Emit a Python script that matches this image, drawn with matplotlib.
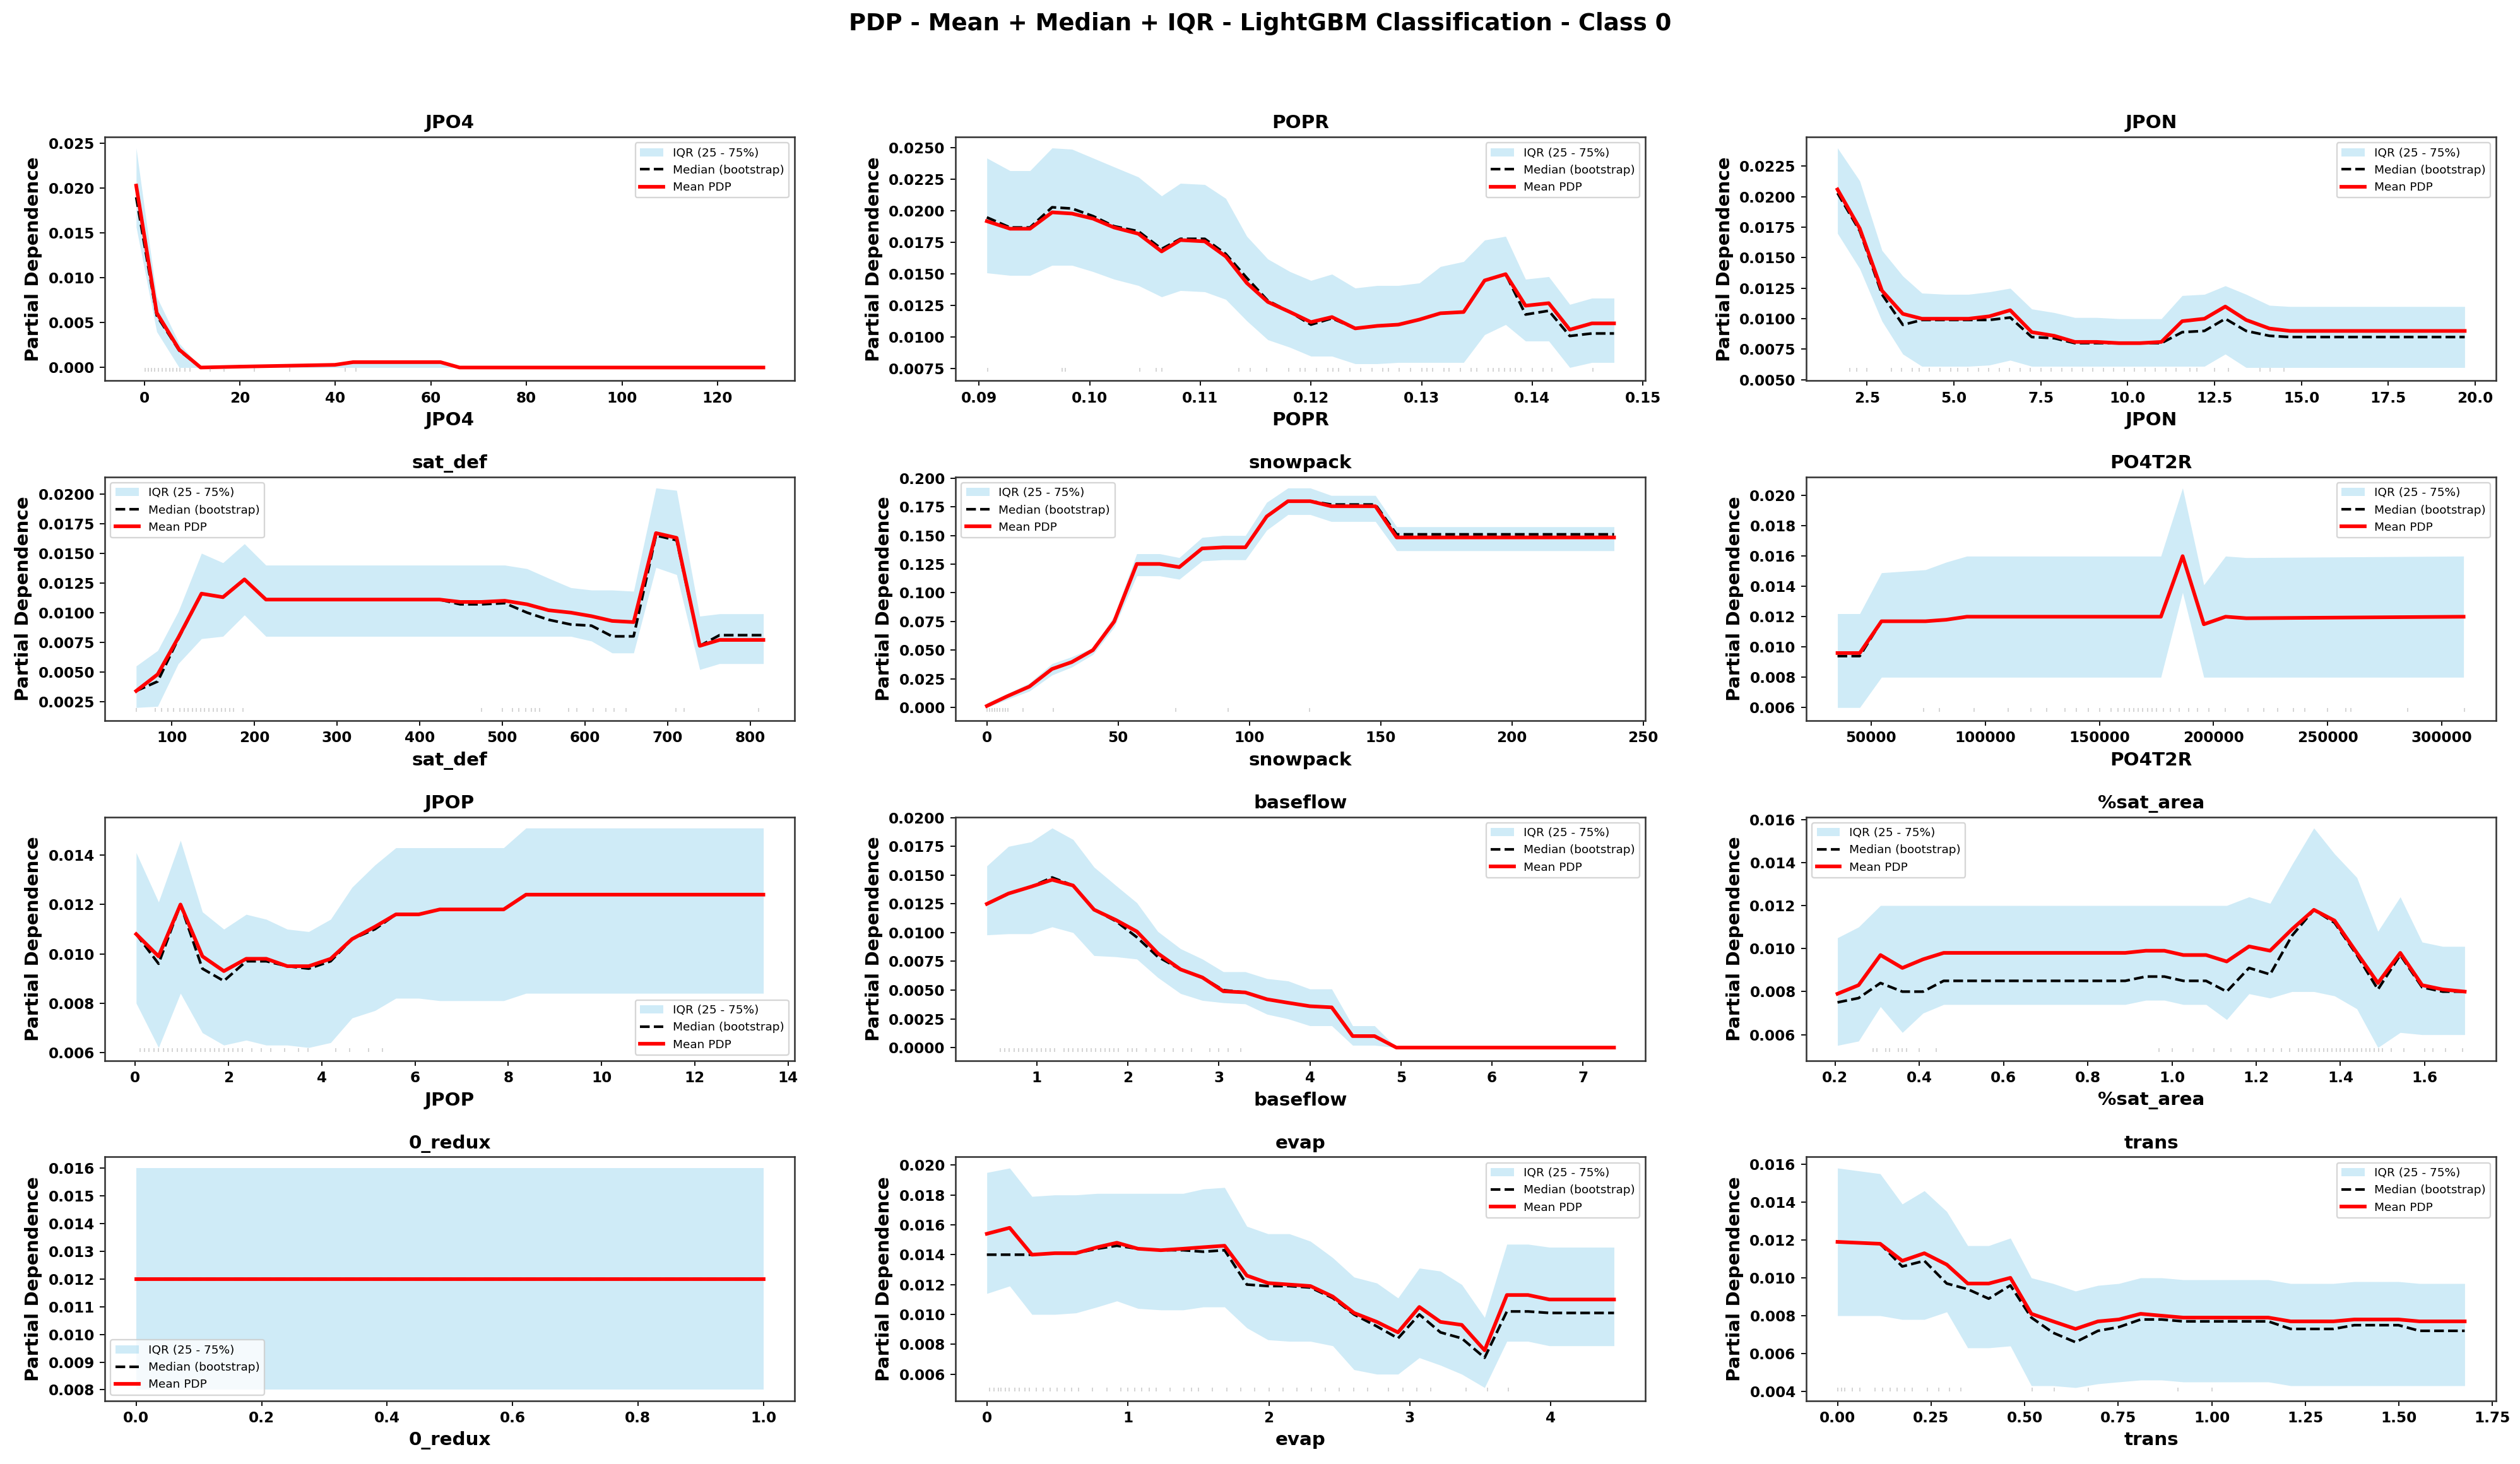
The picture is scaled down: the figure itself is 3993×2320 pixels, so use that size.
import matplotlib
matplotlib.use("Agg")
import matplotlib.pyplot as plt
from matplotlib.ticker import MultipleLocator
import numpy as np

plt.rcParams["font.family"] = ["DejaVu Sans"]
plt.rcParams["font.weight"] = "bold"
plt.rcParams["axes.labelweight"] = "bold"
plt.rcParams["axes.titleweight"] = "bold"

# ---- data (grid, mean PDP, bootstrap median, IQR) ----
jpo4_x = [-1.7, 2.6, 7.3, 11.8, 20, 30, 39.9, 43.7, 62, 66, 129.6]
jpo4_mean = [0.0203, 0.0061, 0.0020, 0.0, 0.0001, 0.0002, 0.0003, 0.0006, 0.0006, 0.0, 0.0]
jpo4_median = [0.0190, 0.0058, 0.0019, 0.0, 0.0001, 0.0002, 0.0003, 0.0006, 0.0006, 0.0, 0.0]
jpo4_q75 = [0.0245, 0.0079, 0.0027, 0.0, 0.0001, 0.0002, 0.0003, 0.0007, 0.0007, 0.0, 0.0]
jpo4_q25 = [0.0157, 0.0040, 0.0, 0.0, 0.0, 0.0, 0.0, 0.0, 0.0, 0.0, 0.0]
jpo4_rug = [0.2, 0.8, 1.5, 2.2, 3.0, 3.8, 4.5, 5.3, 6.0, 6.8, 7.5, 8.5, 9.5, 13.8, 16.7, 23, 30.4, 42, 44.3]

popr_x = [0.0907, 0.0928, 0.0946, 0.0966, 0.0984, 0.1003, 0.1022, 0.1044, 0.1065, 0.1082,
          0.1104, 0.1123, 0.1142, 0.1161, 0.1181, 0.1200, 0.1219, 0.1240, 0.1260, 0.1279,
          0.1298, 0.1317, 0.1338, 0.1357, 0.1376, 0.1394, 0.1415, 0.1434, 0.1454, 0.1474]
popr_mean = [0.0192, 0.0186, 0.0186, 0.0199, 0.0198, 0.0194, 0.0187, 0.0182, 0.0168, 0.0177,
             0.0176, 0.0164, 0.0143, 0.0128, 0.0120, 0.0112, 0.0116, 0.0107, 0.0109, 0.0110,
             0.0114, 0.0119, 0.0120, 0.0145, 0.0150, 0.0125, 0.0127, 0.0106, 0.0111, 0.0111]
popr_median = [0.0195, 0.0187, 0.0187, 0.0203, 0.0202, 0.0196, 0.0188, 0.0184, 0.0170, 0.0178,
               0.0178, 0.0166, 0.0147, 0.0129, 0.0120, 0.0110, 0.0115, 0.0107, 0.0109, 0.0110,
               0.0114, 0.0119, 0.0120, 0.0145, 0.0150, 0.0118, 0.0121, 0.0101, 0.0103, 0.0103]
popr_q75 = [0.0242, 0.0232, 0.0232, 0.0250, 0.0249, 0.0242, 0.0235, 0.0227, 0.0212, 0.0222,
            0.0221, 0.0210, 0.0180, 0.0162, 0.0152, 0.0145, 0.0150, 0.0139, 0.0141, 0.0141,
            0.0143, 0.0156, 0.0160, 0.0177, 0.0180, 0.0146, 0.0148, 0.0126, 0.0131, 0.0131]
popr_q25 = [0.0151, 0.0149, 0.0149, 0.0157, 0.0157, 0.0152, 0.0146, 0.0141, 0.0132, 0.0137,
            0.0136, 0.0130, 0.0113, 0.0098, 0.0092, 0.0085, 0.0085, 0.0079, 0.0079, 0.0080,
            0.0080, 0.0080, 0.0080, 0.0102, 0.0110, 0.0097, 0.0097, 0.0076, 0.0080, 0.0080]
popr_rug = [0.0908, 0.0975, 0.0978, 0.1045, 0.1060, 0.1065, 0.1135, 0.1145, 0.1160, 0.1180,
            0.1190, 0.1195, 0.1205, 0.1215, 0.1220, 0.1225, 0.1235, 0.1245, 0.1255, 0.1265,
            0.1270, 0.1280, 0.1290, 0.1300, 0.1305, 0.1310, 0.1320, 0.1325, 0.1335, 0.1345,
            0.1350, 0.1360, 0.1365, 0.1370, 0.1375, 0.1380, 0.1385, 0.1390, 0.1400, 0.1410,
            0.1418, 0.1455]

jpon_x = [1.65, 2.29, 2.93, 3.53, 4.08, 4.75, 5.42, 6.02, 6.62, 7.24, 7.89, 8.48,
          9.11, 9.75, 10.35, 10.97, 11.57, 12.21, 12.81, 13.41, 14.08, 14.67, 15.3, 19.7]
jpon_mean = [0.0206, 0.0174, 0.0123, 0.0104, 0.0100, 0.0100, 0.0100, 0.0102, 0.0107, 0.0089, 0.0086, 0.0081,
             0.0081, 0.0080, 0.0080, 0.0081, 0.0098, 0.0100, 0.0110, 0.0099, 0.0092, 0.0090, 0.0090, 0.0090]
jpon_median = [0.0203, 0.0172, 0.0120, 0.0095, 0.0099, 0.0099, 0.0099, 0.0099, 0.0101, 0.0085, 0.0084, 0.0080,
               0.0080, 0.0080, 0.0080, 0.0080, 0.0089, 0.0090, 0.0100, 0.0090, 0.0086, 0.0085, 0.0085, 0.0085]
jpon_q75 = [0.0240, 0.0213, 0.0156, 0.0135, 0.0121, 0.0120, 0.0120, 0.0122, 0.0125, 0.0108, 0.0105, 0.0101,
            0.0101, 0.0100, 0.0100, 0.0100, 0.0119, 0.0120, 0.0127, 0.0120, 0.0111, 0.0110, 0.0110, 0.0110]
jpon_q25 = [0.0170, 0.0141, 0.0098, 0.0071, 0.0061, 0.0061, 0.0061, 0.0062, 0.0066, 0.0061, 0.0061, 0.0061,
            0.0061, 0.0061, 0.0061, 0.0061, 0.0061, 0.0061, 0.0071, 0.0060, 0.0060, 0.0060, 0.0060, 0.0060]
jpon_rug = [2.0, 2.2, 2.5, 3.2, 3.5, 3.8, 4.0, 4.3, 4.6, 4.9, 5.1, 5.4, 5.7, 6.0, 6.3, 6.6, 6.9, 7.2,
            7.5, 7.8, 8.1, 8.4, 8.7, 9.0, 9.3, 9.6, 9.9, 10.2, 10.5, 10.8, 11.1, 11.4, 11.8, 12.0,
            12.5, 12.9, 13.8, 14.1, 14.5]

satdef_x = [57, 83, 108, 136, 162, 188, 214, 424, 449, 475, 503, 530, 556, 583, 608, 633, 659,
            686, 711, 739, 763, 816]
satdef_mean = [0.0034, 0.0048, 0.0079, 0.0116, 0.0113, 0.0128, 0.0111, 0.0111, 0.0109, 0.0109, 0.0110,
               0.0107, 0.0102, 0.0100, 0.0097, 0.0093, 0.0092, 0.0167, 0.0163, 0.0072, 0.0077, 0.0077]
satdef_median = [0.0034, 0.0042, 0.0078, 0.0116, 0.0113, 0.0128, 0.0111, 0.0111, 0.0107, 0.0107, 0.0108,
                 0.0100, 0.0094, 0.0090, 0.0089, 0.0080, 0.0080, 0.0165, 0.0161, 0.0072, 0.0081, 0.0081]
satdef_q75 = [0.0055, 0.0068, 0.0101, 0.0150, 0.0142, 0.0158, 0.0140, 0.0140, 0.0140, 0.0140, 0.0140,
              0.0137, 0.0129, 0.0121, 0.0119, 0.0119, 0.0118, 0.0205, 0.0203, 0.0097, 0.0099, 0.0099]
satdef_q25 = [0.0020, 0.0021, 0.0057, 0.0078, 0.0080, 0.0098, 0.0080, 0.0080, 0.0080, 0.0080, 0.0080,
              0.0080, 0.0080, 0.0080, 0.0076, 0.0066, 0.0066, 0.0138, 0.0132, 0.0052, 0.0057, 0.0057]
satdef_rug = [57, 80, 88, 95, 102, 110, 115, 120, 125, 130, 135, 140, 145, 150, 155, 160, 165, 170,
              175, 186, 475, 500, 512, 520, 528, 535, 540, 545, 580, 590, 610, 625, 635, 650, 710,
              720, 810]

snow_x = [0, 7.7, 16.2, 24.8, 32.3, 40.4, 48.5, 57.1, 65.8, 73.3, 82.0, 90.0, 98.5, 106.6,
          114.7, 123.2, 131.2, 139.9, 148.0, 156.1, 238.9]
snow_mean = [0.0014, 0.0098, 0.0183, 0.0336, 0.0396, 0.0501, 0.0750, 0.1252, 0.1252, 0.1224, 0.1387,
             0.1397, 0.1397, 0.1666, 0.1799, 0.1799, 0.1755, 0.1755, 0.1755, 0.1483, 0.1483]
snow_median = [0.0014, 0.0098, 0.0183, 0.0336, 0.0396, 0.0501, 0.0750, 0.1252, 0.1252, 0.1224, 0.1387,
               0.1397, 0.1397, 0.1666, 0.1799, 0.1799, 0.1770, 0.1770, 0.1770, 0.1510, 0.1510]
snow_q75 = [0.0040, 0.0120, 0.0213, 0.0382, 0.0442, 0.0521, 0.0800, 0.1341, 0.1341, 0.1307, 0.1483,
            0.1500, 0.1500, 0.1789, 0.1914, 0.1914, 0.1849, 0.1849, 0.1849, 0.1576, 0.1576]
snow_q25 = [0.0000, 0.0070, 0.0143, 0.0283, 0.0352, 0.0462, 0.0700, 0.1148, 0.1148, 0.1118, 0.1278,
            0.1288, 0.1288, 0.1546, 0.1682, 0.1682, 0.1622, 0.1622, 0.1622, 0.1367, 0.1367]
snow_rug = [0, 1, 2, 3, 4, 5, 6, 7, 8, 13.7, 25.4, 71.9, 92, 122.8]

po4_x = [35268, 45014, 54533, 73800, 82865, 91930, 176922, 186441, 195734, 205254, 214320, 309518]
po4_mean = [0.0096, 0.0096, 0.0117, 0.0117, 0.0118, 0.0120, 0.0120, 0.0160, 0.0115, 0.0120, 0.0119, 0.0120]
po4_median = [0.0094, 0.0094, 0.0117, 0.0117, 0.0118, 0.0120, 0.0120, 0.0160, 0.0115, 0.0120, 0.0119, 0.0120]
po4_q75 = [0.0122, 0.0122, 0.0149, 0.0151, 0.0156, 0.0160, 0.0160, 0.0205, 0.0141, 0.0160, 0.0159, 0.0160]
po4_q25 = [0.0060, 0.0060, 0.0080, 0.0080, 0.0080, 0.0080, 0.0080, 0.0136, 0.0080, 0.0080, 0.0080, 0.0080]
po4_rug = [73000, 80000, 95000, 110000, 120000, 127000, 135000, 140000, 145000, 150000, 155000,
           158000, 161000, 163000, 165000, 167000, 169000, 171000, 173000, 175000, 178000, 181000,
           185000, 189000, 193000, 198000, 205000, 215000, 222000, 228000, 235000, 240000, 250000,
           258000, 260000, 285000, 310000]

jpop_x = [0.02, 0.50, 0.97, 1.44, 1.90, 2.38, 2.81, 3.26, 3.72, 4.19, 4.65, 5.14, 5.59, 6.08,
          6.53, 7.90, 8.38, 13.47]
jpop_mean = [0.0108, 0.0099, 0.0120, 0.0099, 0.0093, 0.0098, 0.0098, 0.0095, 0.0095, 0.0098, 0.0106,
             0.0111, 0.0116, 0.0116, 0.0118, 0.0118, 0.0124, 0.0124]
jpop_median = [0.0108, 0.0096, 0.0120, 0.0094, 0.0089, 0.0097, 0.0097, 0.0095, 0.0094, 0.0097, 0.0106,
               0.0110, 0.0116, 0.0116, 0.0118, 0.0118, 0.0124, 0.0124]
jpop_q75 = [0.0141, 0.0121, 0.0146, 0.0117, 0.0110, 0.0116, 0.0114, 0.0110, 0.0109, 0.0114, 0.0127,
            0.0136, 0.0143, 0.0143, 0.0143, 0.0143, 0.0151, 0.0151]
jpop_q25 = [0.0080, 0.0062, 0.0084, 0.0068, 0.0063, 0.0065, 0.0063, 0.0063, 0.0062, 0.0064, 0.0074,
            0.0077, 0.0082, 0.0082, 0.0081, 0.0081, 0.0084, 0.0084]
jpop_rug = [0.1, 0.2, 0.3, 0.4, 0.5, 0.6, 0.7, 0.8, 0.9, 1.0, 1.1, 1.2, 1.3, 1.4, 1.5, 1.6, 1.7,
            1.8, 1.9, 2.0, 2.1, 2.2, 2.3, 2.5, 2.7, 2.9, 3.2, 3.5, 3.7, 4.3, 4.6, 5.0, 5.3]

base_x = [0.453, 0.69, 0.94, 1.17, 1.40, 1.63, 1.87, 2.10, 2.33, 2.58, 2.82, 3.05, 3.29, 3.53,
          3.76, 4.00, 4.24, 4.47, 4.71, 4.95, 7.34]
base_mean = [0.0125, 0.0134, 0.0140, 0.0146, 0.0141, 0.0120, 0.0111, 0.0101, 0.0082, 0.0068, 0.0061,
             0.0049, 0.0048, 0.0042, 0.0039, 0.0036, 0.0035, 0.0010, 0.0010, 0.0, 0.0]
base_median = [0.0125, 0.0134, 0.0140, 0.0148, 0.0141, 0.0120, 0.0110, 0.0096, 0.0079, 0.0068, 0.0061,
               0.0050, 0.0048, 0.0042, 0.0039, 0.0036, 0.0035, 0.0010, 0.0010, 0.0, 0.0]
base_q75 = [0.0158, 0.0175, 0.0179, 0.0191, 0.0181, 0.0157, 0.0141, 0.0126, 0.0101, 0.0086, 0.0077,
            0.0066, 0.0066, 0.0060, 0.0058, 0.0051, 0.0051, 0.0019, 0.0019, 0.0, 0.0]
base_q25 = [0.0098, 0.0099, 0.0099, 0.0105, 0.0100, 0.0080, 0.0079, 0.0077, 0.0061, 0.0047, 0.0041,
            0.0039, 0.0038, 0.0029, 0.0025, 0.0019, 0.0019, 0.0002, 0.0002, 0.0, 0.0]
base_rug = [0.6, 0.65, 0.7, 0.75, 0.8, 0.85, 0.9, 0.95, 1.0, 1.05, 1.1, 1.15, 1.2, 1.3, 1.35, 1.4,
            1.45, 1.5, 1.55, 1.6, 1.65, 1.7, 1.75, 1.8, 1.85, 1.9, 2.0, 2.05, 2.1, 2.2, 2.3, 2.4,
            2.5, 2.6, 2.7, 2.9, 3.0, 3.1, 3.24]

sat_x = [0.206, 0.256, 0.308, 0.360, 0.409, 0.458, 0.889, 0.938, 0.982, 1.027, 1.081, 1.130,
         1.183, 1.233, 1.285, 1.337, 1.386, 1.439, 1.489, 1.542, 1.594, 1.643, 1.695]
sat_mean = [0.0079, 0.0083, 0.0097, 0.0091, 0.0095, 0.0098, 0.0098, 0.0099, 0.0099, 0.0097, 0.0097,
            0.0094, 0.0101, 0.0099, 0.0109, 0.0118, 0.0113, 0.0098, 0.0084, 0.0098, 0.0083, 0.0081, 0.0080]
sat_median = [0.0075, 0.0077, 0.0084, 0.0080, 0.0080, 0.0085, 0.0085, 0.0087, 0.0087, 0.0085, 0.0085,
              0.0080, 0.0091, 0.0088, 0.0106, 0.0118, 0.0112, 0.0097, 0.0081, 0.0097, 0.0082, 0.0080, 0.0080]
sat_q75 = [0.0105, 0.0110, 0.0120, 0.0120, 0.0120, 0.0120, 0.0120, 0.0120, 0.0120, 0.0120, 0.0120,
           0.0120, 0.0124, 0.0121, 0.0139, 0.0156, 0.0144, 0.0133, 0.0108, 0.0124, 0.0103, 0.0101, 0.0101]
sat_q25 = [0.0055, 0.0057, 0.0073, 0.0061, 0.0070, 0.0074, 0.0074, 0.0076, 0.0076, 0.0074, 0.0074,
           0.0067, 0.0079, 0.0077, 0.0080, 0.0080, 0.0078, 0.0072, 0.0054, 0.0061, 0.0060, 0.0060, 0.0060]
sat_rug = [0.29, 0.30, 0.32, 0.33, 0.35, 0.36, 0.37, 0.40, 0.44, 0.97, 1.00, 1.05, 1.10, 1.14, 1.18,
           1.20, 1.22, 1.24, 1.26, 1.28, 1.30, 1.31, 1.32, 1.33, 1.34, 1.35, 1.36, 1.37, 1.38, 1.39,
           1.40, 1.41, 1.42, 1.43, 1.44, 1.45, 1.46, 1.47, 1.48, 1.49, 1.50, 1.52, 1.55, 1.60, 1.62,
           1.65, 1.69]

redux_x = [0.0, 1.0]
redux_mean = [0.012, 0.012]
redux_median = [0.012, 0.012]
redux_q75 = [0.016, 0.016]
redux_q25 = [0.008, 0.008]
redux_rug = []

evap_x = [0, 0.162, 0.320, 0.482, 0.632, 0.783, 0.922, 1.072, 1.234, 1.392, 1.535, 1.686, 1.844,
          1.994, 2.145, 2.295, 2.453, 2.604, 2.766, 2.916, 3.067, 3.217, 3.368, 3.530, 3.688,
          3.838, 3.989, 4.448]
evap_mean = [0.0154, 0.0158, 0.0140, 0.0141, 0.0141, 0.0145, 0.0148, 0.0144, 0.0143, 0.0144, 0.0145,
             0.0146, 0.0126, 0.0121, 0.0120, 0.0119, 0.0112, 0.0101, 0.0095, 0.0088, 0.0105, 0.0095,
             0.0093, 0.0076, 0.0113, 0.0113, 0.0110, 0.0110]
evap_median = [0.0140, 0.0140, 0.0140, 0.0141, 0.0141, 0.0144, 0.0146, 0.0144, 0.0143, 0.0143, 0.0142,
               0.0143, 0.0120, 0.0119, 0.0119, 0.0118, 0.0111, 0.0100, 0.0092, 0.0084, 0.0100, 0.0088,
               0.0084, 0.0071, 0.0102, 0.0102, 0.0101, 0.0101]
evap_q75 = [0.0195, 0.0198, 0.0179, 0.0180, 0.0180, 0.0181, 0.0181, 0.0181, 0.0181, 0.0181, 0.0184,
            0.0185, 0.0159, 0.0154, 0.0154, 0.0149, 0.0138, 0.0125, 0.0121, 0.0111, 0.0131, 0.0129,
            0.0120, 0.0098, 0.0147, 0.0147, 0.0145, 0.0145]
evap_q25 = [0.0114, 0.0119, 0.0100, 0.0100, 0.0101, 0.0105, 0.0109, 0.0104, 0.0103, 0.0103, 0.0105,
            0.0105, 0.0091, 0.0083, 0.0082, 0.0082, 0.0079, 0.0063, 0.0060, 0.0060, 0.0071, 0.0066,
            0.0060, 0.0051, 0.0082, 0.0082, 0.0079, 0.0079]
evap_rug = [0.02, 0.05, 0.08, 0.1, 0.13, 0.16, 0.2, 0.23, 0.27, 0.3, 0.35, 0.4, 0.45, 0.5, 0.55, 0.6,
            0.65, 0.75, 0.85, 0.95, 1.0, 1.05, 1.1, 1.15, 1.2, 1.3, 1.4, 1.45, 1.5, 1.6, 1.7, 1.8,
            1.9, 2.0, 2.1, 2.2, 2.3, 2.4, 2.5, 2.6, 2.7, 2.85, 2.95, 3.05, 3.15, 3.4, 3.55, 3.7]

trans_x = [0, 0.114, 0.173, 0.232, 0.292, 0.348, 0.404, 0.462, 0.518, 0.576, 0.636, 0.696, 0.752,
           0.810, 0.866, 0.924, 1.151, 1.211, 1.325, 1.381, 1.499, 1.555, 1.676]
trans_mean = [0.0119, 0.0118, 0.0109, 0.0113, 0.0107, 0.0097, 0.0097, 0.0100, 0.0081, 0.0077, 0.0073,
              0.0077, 0.0078, 0.0081, 0.0080, 0.0079, 0.0079, 0.0077, 0.0077, 0.0078, 0.0078, 0.0077, 0.0077]
trans_median = [0.0119, 0.0118, 0.0106, 0.0109, 0.0097, 0.0094, 0.0089, 0.0096, 0.0079, 0.0071, 0.0066,
                0.0072, 0.0074, 0.0078, 0.0078, 0.0077, 0.0077, 0.0073, 0.0073, 0.0075, 0.0075, 0.0072, 0.0072]
trans_q75 = [0.0158, 0.0155, 0.0139, 0.0146, 0.0135, 0.0117, 0.0117, 0.0121, 0.0100, 0.0097, 0.0093,
             0.0096, 0.0097, 0.0100, 0.0100, 0.0099, 0.0099, 0.0097, 0.0097, 0.0098, 0.0098, 0.0097, 0.0097]
trans_q25 = [0.0080, 0.0080, 0.0078, 0.0078, 0.0082, 0.0063, 0.0063, 0.0064, 0.0043, 0.0043, 0.0042,
             0.0044, 0.0045, 0.0046, 0.0046, 0.0045, 0.0045, 0.0043, 0.0043, 0.0043, 0.0043, 0.0043, 0.0043]
trans_rug = [0.0, 0.01, 0.02, 0.04, 0.06, 0.1, 0.12, 0.14, 0.16, 0.18, 0.2, 0.24, 0.27, 0.3, 0.33,
             0.52, 0.58, 0.67, 0.91, 1.0]

features = ["JPO4", "POPR", "JPON", "sat_def", "snowpack", "PO4T2R",
            "JPOP", "baseflow", "%sat_area", "0_redux", "evap", "trans"]
panels = [
    (jpo4_x, jpo4_mean, jpo4_median, jpo4_q25, jpo4_q75, jpo4_rug),
    (popr_x, popr_mean, popr_median, popr_q25, popr_q75, popr_rug),
    (jpon_x, jpon_mean, jpon_median, jpon_q25, jpon_q75, jpon_rug),
    (satdef_x, satdef_mean, satdef_median, satdef_q25, satdef_q75, satdef_rug),
    (snow_x, snow_mean, snow_median, snow_q25, snow_q75, snow_rug),
    (po4_x, po4_mean, po4_median, po4_q25, po4_q75, po4_rug),
    (jpop_x, jpop_mean, jpop_median, jpop_q25, jpop_q75, jpop_rug),
    (base_x, base_mean, base_median, base_q25, base_q75, base_rug),
    (sat_x, sat_mean, sat_median, sat_q25, sat_q75, sat_rug),
    (redux_x, redux_mean, redux_median, redux_q25, redux_q75, redux_rug),
    (evap_x, evap_mean, evap_median, evap_q25, evap_q75, evap_rug),
    (trans_x, trans_mean, trans_median, trans_q25, trans_q75, trans_rug),
]
legend_locs = ["upper right", "upper right", "upper right",
               "upper left", "upper left", "upper right",
               "lower right", "upper right", "upper left",
               "lower left", "upper right", "upper right"]
ytick_steps = [0.005, 0.0025, 0.0025,
               0.0025, 0.025, 0.002,
               0.002, 0.0025, 0.002,
               0.001, 0.002, 0.002]

DPI = 166.375
fig, axes = plt.subplots(4, 3, figsize=(3993 / DPI, 2320 / DPI), dpi=DPI)
fig.subplots_adjust(left=0.0416, right=0.9905, bottom=0.0431, top=0.9065,
                    wspace=0.233, hspace=0.394)

for ax, name, (x, mean, med, q25, q75, rug), loc, step in zip(
        axes.flat, features, panels, legend_locs, ytick_steps):
    x = np.array(x, dtype=float)
    ax.fill_between(x, q25, q75, color="skyblue", alpha=0.4, linewidth=0, label="IQR (25 - 75%)")
    ax.plot(x, med, color="black", linestyle="--", linewidth=1.8, label="Median (bootstrap)")
    ax.plot(x, mean, color="red", linewidth=2.5, label="Mean PDP")
    if len(rug) > 0:
        lo = min(q25)
        span = max(q75) - lo
        ax.plot(rug, np.full(len(rug), lo - 0.01 * span), "|", color="gray",
                alpha=0.35, markersize=3, markeredgewidth=0.8)
    ax.yaxis.set_major_locator(MultipleLocator(step))
    ax.set_title(name, fontsize=12.7, fontweight="bold")
    ax.set_xlabel(name, fontsize=12.7, fontweight="bold")
    ax.set_ylabel("Partial Dependence", fontsize=12.7, fontweight="bold")
    ax.tick_params(labelsize=10)
    for s in ax.spines.values():
        s.set_color("#333333")
        s.set_linewidth(1.1)
    ax.legend(loc=loc, prop={"weight": "normal", "size": 8})

fig.suptitle("PDP - Mean + Median + IQR - LightGBM Classification - Class 0",
             fontsize=16, fontweight="bold", y=0.984, va="center")

fig.savefig("out.png", dpi=DPI)
